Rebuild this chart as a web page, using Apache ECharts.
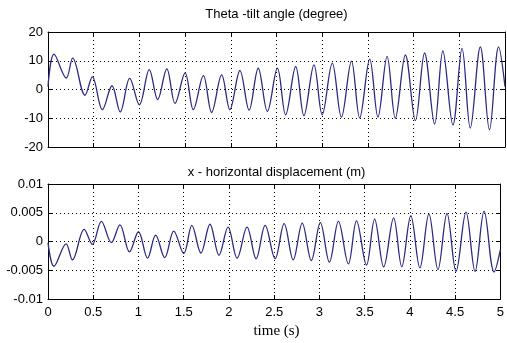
<!DOCTYPE html>
<html><head><meta charset="utf-8">
<script src="https://cdn.jsdelivr.net/npm/echarts@6/dist/echarts.min.js"></script>
<style>html,body{margin:0;padding:0;background:#fff}#c{width:507px;height:343px}</style>
</head><body><div id="c"></div>
<script>
// ---- data ----
const thetaTime = [0, 0.066, 0.20, 0.27, 0.405, 0.485, 0.595, 0.70, 0.79, 0.894, 1.0, 1.108, 1.20, 1.30, 1.39, 1.50, 1.59, 1.70, 1.79, 1.90, 1.99, 2.10, 2.20, 2.30, 2.40, 2.51, 2.60, 2.71, 2.80, 2.91, 3.0, 3.11, 3.21, 3.32, 3.41, 3.52, 3.61, 3.71, 3.80, 3.91, 4.02, 4.12, 4.23, 4.32, 4.43, 4.53, 4.62, 4.73, 4.83, 4.93, 5.0];
const thetaValues = [1, 12.3, 4, 10.9, -2, 4.4, -7, 1.3, -7.8, 3.9, -5.3, 6.9, -3.5, 7.2, -4.8, 5.8, -7, 4.8, -8, 5.1, -7, 6.6, -7.2, 7.4, -7.6, 7.4, -8.8, 8, -9.1, 8.6, -8.8, 9.2, -9.6, 9.9, -9.9, 10.6, -9.6, 11.5, -10, 12, -10.8, 12.7, -12, 13.4, -12.3, 14.3, -13.4, 14.8, -14, 14.8, 1];
const dispTime = [0, 0.066, 0.20, 0.27, 0.40, 0.49, 0.59, 0.70, 0.795, 0.90, 1.0, 1.10, 1.19, 1.29, 1.39, 1.50, 1.59, 1.69, 1.79, 1.89, 1.99, 2.09, 2.20, 2.30, 2.40, 2.51, 2.61, 2.71, 2.81, 2.91, 3.01, 3.11, 3.21, 3.32, 3.41, 3.52, 3.61, 3.71, 3.82, 3.91, 4.01, 4.11, 4.21, 4.31, 4.41, 4.51, 4.62, 4.72, 4.82, 4.93, 5.0];
const dispValues = [-0.0002, -0.0043, -0.0004, -0.0032, 0.0021, -0.0005, 0.0035, -0.0002, 0.0029, -0.0018, 0.0017, -0.0029, 0.0011, -0.0028, 0.0018, -0.0021, 0.0028, -0.002, 0.003, -0.0024, 0.0025, -0.0029, 0.0025, -0.003, 0.0028, -0.003, 0.0031, -0.0032, 0.0032, -0.0033, 0.0033, -0.0036, 0.0035, -0.0039, 0.0036, -0.0041, 0.0039, -0.0044, 0.0041, -0.0044, 0.0045, -0.0046, 0.0048, -0.0049, 0.0049, -0.0052, 0.0051, -0.0052, 0.0053, -0.0053, -0.0014];
const xTicks = [0, 0.5, 1, 1.5, 2, 2.5, 3, 3.5, 4, 4.5, 5];
const thetaTicks = [-20, -10, 0, 10, 20];
const dispTicks = [-0.01, -0.005, 0, 0.005, 0.01];
const titles = ['Theta -tilt angle (degree)', 'x - horizontal displacement (m)'];
const xLabel = 'time (s)';

// ---- chart ----
const FONT = '"Liberation Sans", Arial, Helvetica, sans-serif';
const lineColor = '#2a2a80';
const tickFmt = (ticks) => (v) => {
  const t = ticks.find(k => Math.abs(k - v) < 1e-9);
  return t === undefined ? '' : String(t);
};
const step = (arr) => arr[1] - arr[0];

function xAxes(gi, showLabels) {
  const base = {
    type: 'value', gridIndex: gi,
    min: xTicks[0], max: xTicks[xTicks.length - 1], interval: step(xTicks),
    axisLine: { show: true, onZero: false, lineStyle: { color: '#000', width: 1 } },
    axisTick: { show: true, inside: true, length: 4, lineStyle: { color: '#000' } }
  };
  return [
    Object.assign({}, base, {
      position: 'bottom',
      axisLabel: { show: showLabels, color: '#000', fontSize: 13, fontFamily: FONT, margin: 7, formatter: tickFmt(xTicks) },
      splitLine: { show: true, lineStyle: { color: '#000', width: 1, type: [1, 3] } }
    }),
    Object.assign({}, base, {
      position: 'top',
      axisLabel: { show: false },
      splitLine: { show: false }
    })
  ];
}
function yAxes(gi, ticks) {
  const base = {
    type: 'value', gridIndex: gi,
    min: ticks[0], max: ticks[ticks.length - 1], interval: step(ticks),
    axisLine: { show: true, onZero: false, lineStyle: { color: '#000', width: 1 } },
    axisTick: { show: true, inside: true, length: 4, lineStyle: { color: '#000' } }
  };
  return [
    Object.assign({}, base, {
      position: 'left',
      axisLabel: { show: true, color: '#000', fontSize: 13, fontFamily: FONT, margin: 5, formatter: tickFmt(ticks) },
      splitLine: { show: true, lineStyle: { color: '#000', width: 1, type: [1, 3] } }
    }),
    Object.assign({}, base, {
      position: 'right',
      axisLabel: { show: false },
      splitLine: { show: false }
    })
  ];
}

const chart = echarts.init(document.getElementById('c'), null, { renderer: 'canvas' });
chart.setOption({
  animation: false,
  backgroundColor: '#fff',
  grid: [
    { left: 48, right: 2, top: 32, height: 115 },
    { left: 48, right: 2, top: 184, height: 115 }
  ],
  xAxis: [...xAxes(0, false), ...xAxes(1, true)],
  yAxis: [...yAxes(0, thetaTicks), ...yAxes(1, dispTicks)],
  series: [
    {
      type: 'line', xAxisIndex: 0, yAxisIndex: 0,
      data: thetaTime.map((t, i) => [t, thetaValues[i]]),
      showSymbol: false, smooth: 0.36,
      lineStyle: { color: lineColor, width: 1.3 }
    },
    {
      type: 'line', xAxisIndex: 2, yAxisIndex: 2,
      data: dispTime.map((t, i) => [t, dispValues[i]]),
      showSymbol: false, smooth: 0.36,
      lineStyle: { color: lineColor, width: 1.3 }
    }
  ],
  graphic: [
    { type: 'text', x: 276.5, y: 14.5, style: { text: titles[0], fill: '#000', font: '13px ' + FONT, textAlign: 'center', textVerticalAlign: 'middle' } },
    { type: 'text', x: 276.5, y: 172.5, style: { text: titles[1], fill: '#000', font: '13px ' + FONT, textAlign: 'center', textVerticalAlign: 'middle' } },
    { type: 'text', x: 276.5, y: 331, style: { text: xLabel, fill: '#000', font: '15px "Liberation Serif", "Times New Roman", serif', textAlign: 'center', textVerticalAlign: 'middle' } }
  ]
});
</script>
</body></html>
